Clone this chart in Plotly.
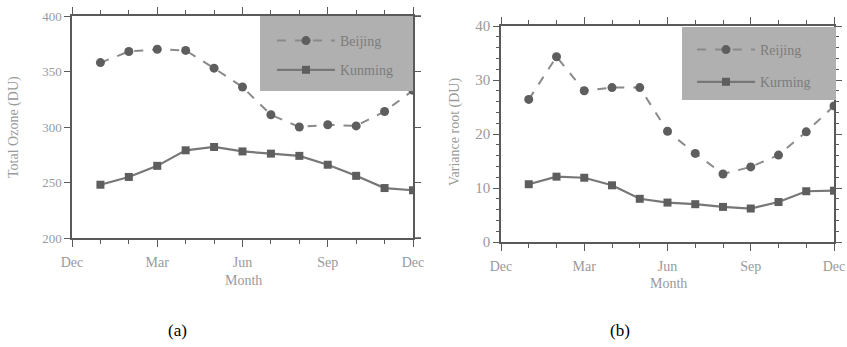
import plotly.graph_objects as go

W, H = 847, 347

months = list(range(1, 13))
x_tick_vals = [0, 3, 6, 9, 12]
x_tick_text = ["Dec", "Mar", "Jun", "Sep", "Dec"]

ozone_beijing = [358, 368, 370, 369, 353, 336, 311, 300, 302, 301, 314, 333]
ozone_kunming = [248, 255, 265, 279, 282, 278, 276, 274, 266, 256, 245, 243]

var_beijing = [26.4, 34.3, 28.0, 28.6, 28.6, 20.5, 16.4, 12.6, 13.9, 16.1, 20.4, 25.2]
var_kunming = [10.7, 12.1, 11.9, 10.5, 8.0, 7.3, 7.0, 6.5, 6.2, 7.4, 9.4, 9.5]

FONT = "Liberation Serif"
TXT = "#9a9a9a"
AX = "#5a5a5a"
LINE_B = "#8a8a8a"
LINE_K = "#777777"
MK = "#5e5e5e"
LEG_BG = "#b0b0b0"
LEG_TXT = "#7c7c7c"

def px_x(p):
    return p / W

def px_y(p):
    return 1 - p / H

fig = go.Figure()

# panel (a)
fig.add_trace(go.Scatter(x=months, y=ozone_beijing, mode="lines+markers", name="Beijing",
                         line=dict(color=LINE_B, width=2, dash="dash"),
                         marker=dict(symbol="circle", size=9, color=MK),
                         xaxis="x", yaxis="y", legend="legend", legendgroup="a1"))
fig.add_trace(go.Scatter(x=months, y=ozone_kunming, mode="lines+markers", name="Kunming",
                         line=dict(color=LINE_K, width=2.2),
                         marker=dict(symbol="square", size=8, color=MK),
                         xaxis="x", yaxis="y", legend="legend", legendgroup="a2"))
# panel (b)
fig.add_trace(go.Scatter(x=months, y=var_beijing, mode="lines+markers", name="Reijing",
                         line=dict(color=LINE_B, width=2, dash="dash"),
                         marker=dict(symbol="circle", size=9, color=MK),
                         xaxis="x2", yaxis="y2", legend="legend2", legendgroup="b1"))
fig.add_trace(go.Scatter(x=months, y=var_kunming, mode="lines+markers", name="Kurming",
                         line=dict(color=LINE_K, width=2.2),
                         marker=dict(symbol="square", size=8, color=MK),
                         xaxis="x2", yaxis="y2", legend="legend2", legendgroup="b2"))

xa_common = dict(range=[0, 12], tickvals=x_tick_vals, ticktext=x_tick_text,
                 ticks="outside", ticklen=7, tickcolor=AX, tickwidth=1,
                 showline=True, linecolor=AX, linewidth=1.5, mirror="ticks",
                 showgrid=False, zeroline=False,
                 tickfont=dict(family=FONT, size=14, color=TXT),
                 ticklabelstandoff=3,
                 minor=dict(dtick=1, tick0=0, ticks="outside", ticklen=4, tickcolor=AX))

fig.update_layout(
    width=W, height=H,
    margin=dict(l=0, r=0, t=0, b=0, autoexpand=False),
    paper_bgcolor="white", plot_bgcolor="white",
    xaxis=dict(domain=[px_x(72), px_x(413)], anchor="y", **xa_common),
    yaxis=dict(domain=[px_y(238), px_y(16)], anchor="x", range=[200, 400], dtick=50,
               ticks="outside", ticklen=6, tickcolor=AX, showline=True, linecolor=AX,
               linewidth=1.5, mirror="ticks", showgrid=False, zeroline=False,
               tickfont=dict(family=FONT, size=13, color=TXT)),
    xaxis2=dict(domain=[px_x(501), px_x(834)], anchor="y2", **xa_common),
    yaxis2=dict(domain=[px_y(242), px_y(26)], anchor="x2", range=[0, 40], dtick=10,
                ticks="outside", ticklen=6, tickcolor=AX, showline=True, linecolor=AX,
                linewidth=1.5, mirror="ticks", showgrid=False, zeroline=False,
                tickfont=dict(family=FONT, size=15, color=TXT),
                minor=dict(dtick=2, ticks="outside", ticklen=3, tickcolor=AX)),
    legend=dict(x=px_x(272), xanchor="left", y=px_y(25), yanchor="top",
                xref="paper", yref="paper", itemwidth=58,
                bgcolor="rgba(0,0,0,0)", borderwidth=0, tracegroupgap=8,
                font=dict(family=FONT, size=14, color=LEG_TXT),
                traceorder="grouped"),
    legend2=dict(x=px_x(692), xanchor="left", y=px_y(34), yanchor="top",
                 xref="paper", yref="paper", itemwidth=58,
                 bgcolor="rgba(0,0,0,0)", borderwidth=0, tracegroupgap=11,
                 font=dict(family=FONT, size=14, color=LEG_TXT),
                 traceorder="grouped"),
    showlegend=True,
)

shapes = [
    # legend backgrounds
    dict(type="rect", xref="paper", yref="paper", x0=px_x(260), x1=px_x(413),
         y0=px_y(91), y1=px_y(16), fillcolor=LEG_BG, line=dict(width=0), layer="above"),
    dict(type="rect", xref="paper", yref="paper", x0=px_x(682), x1=px_x(836),
         y0=px_y(100), y1=px_y(27), fillcolor=LEG_BG, line=dict(width=0), layer="above"),
    # axis line overshoot (panel a)
    dict(type="line", xref="paper", yref="paper", x0=px_x(413), x1=px_x(421),
         y0=px_y(16), y1=px_y(16), line=dict(color=AX, width=1.5)),
    dict(type="line", xref="paper", yref="paper", x0=px_x(413), x1=px_x(421),
         y0=px_y(238), y1=px_y(238), line=dict(color=AX, width=1.5)),
]

annotations = [
    dict(text="Month", x=px_x(243), y=px_y(280), xref="paper", yref="paper",
         xanchor="center", yanchor="middle",
         showarrow=False, font=dict(family=FONT, size=14, color=TXT)),
    dict(text="Month", x=px_x(668), y=px_y(283), xref="paper", yref="paper",
         xanchor="center", yanchor="middle",
         showarrow=False, font=dict(family=FONT, size=14, color=TXT)),
    dict(text="Total Ozone (DU)", x=px_x(14), y=px_y(127), xref="paper", yref="paper",
         xanchor="center", yanchor="middle",
         showarrow=False, textangle=-90, font=dict(family=FONT, size=14, color=TXT)),
    dict(text="Variance root (DU)", x=px_x(455), y=px_y(132), xref="paper", yref="paper",
         xanchor="center", yanchor="middle",
         showarrow=False, textangle=-90, font=dict(family=FONT, size=14, color=TXT)),
    dict(text="(a)", x=px_x(177), y=px_y(330), xref="paper", yref="paper",
         xanchor="center", yanchor="middle",
         showarrow=False, font=dict(family=FONT, size=17, color="black")),
    dict(text="(b)", x=px_x(620), y=px_y(330), xref="paper", yref="paper",
         xanchor="center", yanchor="middle",
         showarrow=False, font=dict(family=FONT, size=17, color="black")),
]
fig.update_layout(annotations=annotations, shapes=shapes)

fig.write_html("out.html")
